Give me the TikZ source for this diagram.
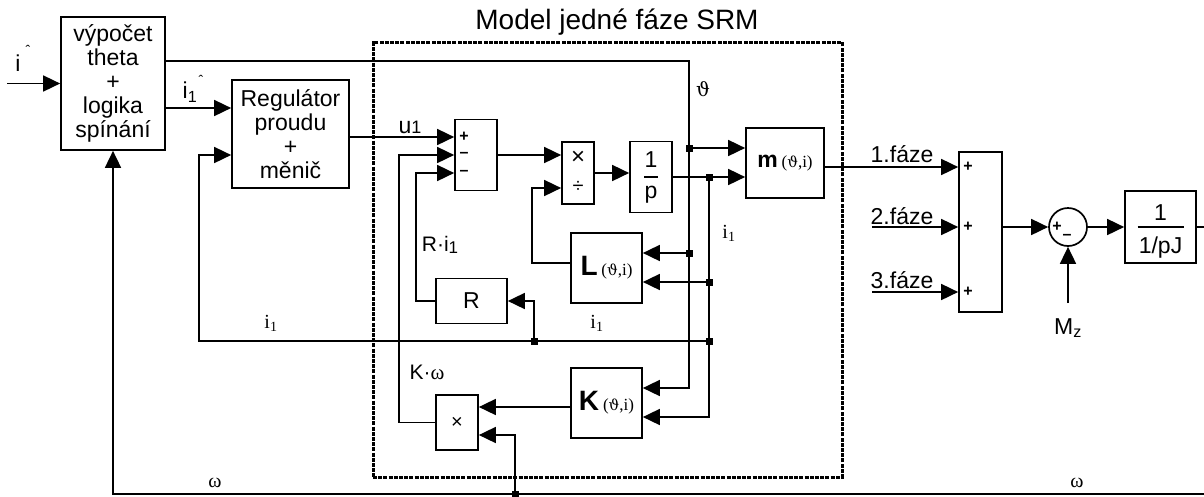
\documentclass[tikz,border=0pt]{standalone}
\usepackage{fontspec}
\setmainfont{Liberation Sans}
\newfontfamily\serif{Liberation Serif}
\newfontfamily\dvs[Scale=0.88]{DejaVu Serif}
\newcommand{\vth}{{\dvs ϑ}}
\usetikzlibrary{arrows.meta,calc}
\begin{document}
\begin{tikzpicture}[x=1pt,y=-1pt,
  every node/.append style={font=\fontsize{23}{24}\selectfont},
  blk/.style={draw,line width=1.7pt,inner sep=0pt,align=center},
  arr/.style={line width=1.7pt,-{Triangle[length=17pt,width=16pt]}},
  ln/.style={line width=1.7pt},
  jn/.style={fill,inner sep=0pt,minimum size=7pt,rectangle},
  sgn/.style={inner sep=0pt,font=\fontsize{16}{16}\selectfont\bfseries},
  srf/.style={inner sep=0pt,font=\serif\fontsize{20}{20}\selectfont},
  lbl/.style={inner sep=0pt},
  modelbox/.style={draw,line width=3pt,dash pattern=on 4pt off 1.2pt,inner sep=0pt}]

\useasboundingbox (0,0) rectangle (1204,496);

% model frame and title
\node[modelbox,minimum width=469pt,minimum height=435pt] (model) at (607.5,259.5) {};
\node[lbl,font=\fontsize{28}{28}\selectfont] (title) at (617,22) {Model jedné fáze SRM};

% blocks
\node[blk,minimum width=104pt,minimum height=133pt] (vyp) at (113,83.5) {výpočet\\theta\\+\\logika\\spínání};
\node[blk,minimum width=117pt,minimum height=108pt] (reg) at (290.5,134) {Regulátor\\proudu\\+\\měnič};
\node[blk,minimum width=42pt,minimum height=71pt] (sum1) at (476,155) {};
\node[sgn] at ([xshift=10pt,yshift=18pt]sum1.west) {+};
\node[sgn] at ([xshift=10pt]sum1.west) {–};
\node[sgn] at ([xshift=10pt,yshift=-18pt]sum1.west) {–};
\node[blk,minimum width=32pt,minimum height=62pt] (md) at (578,173) {};
\node[lbl,font=\fontsize{24}{24}\selectfont] at ([yshift=15pt]md.center) {×};
\node[lbl,font=\fontsize{20}{20}\selectfont] at ([yshift=-14pt]md.center) {÷};
\node[blk,minimum width=42pt,minimum height=71pt] (intp) at (651,177) {};
\node[lbl] at ([yshift=17pt]intp.center) {1};
\draw[line width=1.2pt] ([xshift=-7pt]intp.center) -- ([xshift=7pt]intp.center);
\node[lbl] at ([yshift=-18pt]intp.center) {p};
\node[blk,minimum width=78pt,minimum height=70pt] (mblk) at (785,163) {\textbf{m}\,{\serif\fontsize{17}{17}\selectfont(\vth,i)}};
\node[blk,minimum width=71pt,minimum height=70pt] (L) at (606.5,268) {{\fontsize{28}{28}\selectfont\bfseries L}\,{\serif\fontsize{17}{17}\selectfont(\vth,i)}};
\node[blk,minimum width=71pt,minimum height=45pt] (R) at (471.5,301) {R};
\node[blk,minimum width=71pt,minimum height=70pt] (K) at (606.5,403) {{\fontsize{28}{28}\selectfont\bfseries K}\,{\serif\fontsize{17}{17}\selectfont(\vth,i)}};
\node[blk,minimum width=42pt,minimum height=55pt,font=\fontsize{20}{20}\selectfont] (X) at (457,422.5) {×};
\node[blk,minimum width=43pt,minimum height=160pt] (sum3) at (980.5,232) {};
\node[sgn] at ([xshift=10pt,yshift=65pt]sum3.west) {+};
\node[sgn] at ([xshift=10pt,yshift=5pt]sum3.west) {+};
\node[sgn] at ([xshift=10pt,yshift=-60pt]sum3.west) {+};
\node[draw,circle,line width=1.7pt,minimum size=38pt,inner sep=0pt] (circ) at (1068,227) {};
\node[sgn] at (1057,227) {+};
\node[sgn] at (1067,237) {–};
\node[blk,minimum width=71pt,minimum height=72pt] (pJ) at (1160.5,227) {};
\node[lbl] at ([yshift=14pt]pJ.center) {1};
\draw[line width=1.2pt] ([xshift=-23pt]pJ.center) -- ([xshift=23pt]pJ.center);
\node[lbl] at ([yshift=-21pt]pJ.center) {1/pJ};

% coordinates
\coordinate (iin) at (7,83.5);
\coordinate (th1) at (689,148);
\coordinate (th2) at (689,253);
\coordinate (ia) at (709,177);
\coordinate (ib) at (709,282);
\coordinate (ic) at (709,341);
\coordinate (id) at (534,341);
\coordinate (ie) at (199,341);
\coordinate (wr) at (1204,494);
\coordinate (wj) at (515,494);
\coordinate (f2) at (872,227);
\coordinate (f3) at (872,292);
\coordinate (mz) at (1068,303);
\coordinate (out) at (1204,227);

% connectors
\draw[arr] (iin) -- (vyp.west);
\draw[arr] ([yshift=22.5pt]vyp.east) -| (th2) |- ([yshift=15pt]K.east);
\draw[arr] (th1) -- ([yshift=15pt]mblk.west);
\draw[arr] (th2) -- ([yshift=15pt]L.east);
\draw[arr] ([yshift=-24.5pt]vyp.east) -- ([yshift=26pt]reg.west);
\draw[arr] ([yshift=-3pt]reg.east) -- ([yshift=18pt]sum1.west);
\draw[arr] (sum1.east) -- ([yshift=18pt]md.west);
\draw[arr] (md.east) -- ([yshift=4pt]intp.west);
\draw[arr] (intp.east) -- ([yshift=-14pt]mblk.west);
\draw[arr] (ia) |- ([yshift=-14pt]K.east);
\draw[arr] (ib) -- ([yshift=-14pt]L.east);
\draw[arr] (ic) -- (ie) |- ([yshift=-21pt]reg.west);
\draw[arr] (id) |- (R.east);
\draw[arr] (R.west) -- ++(-19,0) |- ([yshift=-18pt]sum1.west);
\draw[arr] ([yshift=5pt]L.west) -- ++(-38,0) |- ([yshift=-15pt]md.west);
\draw[arr] ([yshift=-4pt]K.west) -- ([yshift=15.5pt]X.east);
\draw[arr] (X.west) -- ++(-36,0) |- (sum1.west);
\draw[arr] (wr) -| (vyp.south);
\draw[arr] (wj) |- ([yshift=-12.5pt]X.east);
\draw[arr] ([yshift=-4pt]mblk.east) -- ([yshift=65pt]sum3.west);
\draw[arr] (f2) -- ([yshift=5pt]sum3.west);
\draw[arr] (f3) -- ([yshift=-60pt]sum3.west);
\draw[arr] ([yshift=5pt]sum3.east) -- (circ.west);
\draw[arr] (mz) -- (circ.south);
\draw[arr] (circ.east) -- (pJ.west);
\draw[ln] (pJ.east) -- (out);

% junctions
\foreach \p in {th1,th2,ia,ib,ic,id,wj} \node[jn] at (\p) {};

% labels
\node[lbl] at (18,63) {i};
\node[lbl,font=\fontsize{14}{14}\selectfont] at (28,50) {ˆ};
\node[lbl] at (190,92) {i\textsubscript{1}};
\node[lbl,font=\fontsize{14}{14}\selectfont] at (201,80) {ˆ};
\node[lbl] at (410,127) {u{\fontsize{18}{18}\selectfont 1}};
\node[lbl,font=\fontsize{22}{22}\selectfont] at (703,89) {\vth};
\node[srf] at (729,233) {i\textsubscript{1}};
\node[lbl,font=\fontsize{21}{21}\selectfont] at (440,245) {R·i\raisebox{-2pt}{\fontsize{17}{17}\selectfont 1}};
\node[srf] at (597,323) {i\textsubscript{1}};
\node[srf] at (271,323) {i\textsubscript{1}};
\node[lbl,font=\fontsize{21}{21}\selectfont] at (427,372) {K·{\serif ω}};
\node[srf] at (215,483) {ω};
\node[srf] at (1077,483) {ω};
\node[lbl] at (902,154) {1.fáze};
\node[lbl] at (902,216) {2.fáze};
\node[lbl] at (902,280) {3.fáze};
\node[lbl] at (1068,328) {M\textsubscript{z}};
\end{tikzpicture}
\end{document}
